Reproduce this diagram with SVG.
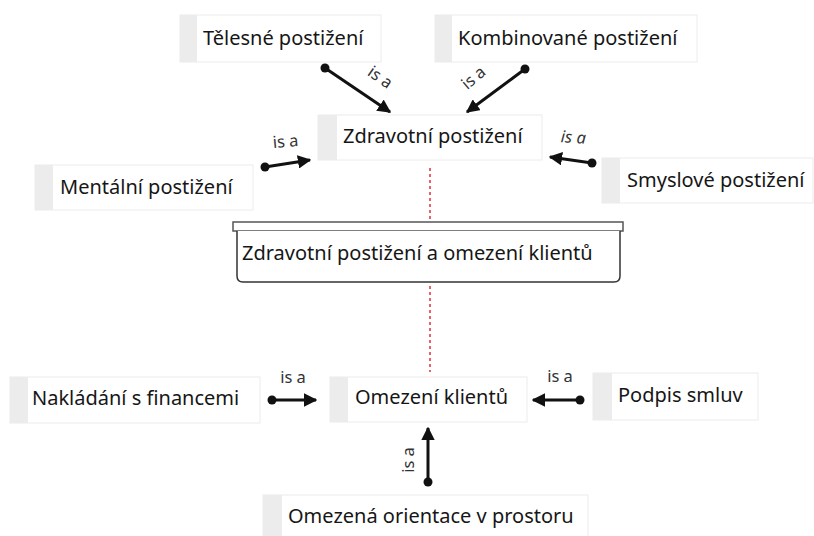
<svg xmlns="http://www.w3.org/2000/svg" width="814" height="536" viewBox="0 0 814 536">
<defs>
<style>
.box{fill:#ffffff;stroke:#ececec;stroke-width:1}
.strip{fill:#ececec}
.t{font-family:"Noto Sans","Open Sans",sans-serif;font-size:20px;fill:#161616}
.lbl{font-family:"Noto Sans","Open Sans",sans-serif;font-size:16.5px;fill:#333333;text-anchor:middle}
.c{stroke:#111111;stroke-width:3;fill:none;marker-end:url(#ah)}
.dot{fill:#111111}
.red{stroke:#e0303a;stroke-width:1.5;stroke-dasharray:3 3;fill:none}
</style>
<marker id="ah" viewBox="0 0 10 10" refX="9" refY="5" markerWidth="4.5" markerHeight="4.5" orient="auto" markerUnits="strokeWidth">
<path d="M0,0 L10,5 L0,10 z" fill="#111111"/>
</marker>
</defs>
<rect width="814" height="536" fill="#ffffff"/>
<g id="red-lines">
<line class="red" x1="430" y1="168" x2="430" y2="220"/>
<line class="red" x1="430" y1="286" x2="430" y2="372"/>
</g>
<g id="n-telesne"><rect class="box" x="180" y="15" width="201" height="47"/><rect class="strip" x="180" y="15" width="17" height="47"/><text class="t" x="203" y="45">Tělesné postižení</text></g>
<g id="n-kombinovane"><rect class="box" x="435" y="15" width="262" height="47"/><rect class="strip" x="435" y="15" width="17" height="47"/><text class="t" x="458" y="45">Kombinované postižení</text></g>
<g id="n-zdravotni"><rect class="box" x="318" y="115" width="224" height="45"/><rect class="strip" x="318" y="115" width="19" height="45"/><text class="t" x="343" y="143">Zdravotní postižení</text></g>
<g id="n-mentalni"><rect class="box" x="35" y="165" width="218" height="45"/><rect class="strip" x="35" y="165" width="18" height="45"/><text class="t" x="60" y="194">Mentální postižení</text></g>
<g id="n-smyslove"><rect class="box" x="602" y="158" width="211" height="45"/><rect class="strip" x="602" y="158" width="18" height="45"/><text class="t" x="627" y="187">Smyslové postižení</text></g>
<g id="n-group">
<rect x="233" y="222" width="390" height="9" fill="#ffffff" stroke="#555555" stroke-width="1.5"/>
<path d="M237,231 V276 Q237,282 243,282 H614 Q620,282 620,276 V231" fill="#ffffff" stroke="#333333" stroke-width="1.5"/>
<text class="t" x="242" y="260">Zdravotní postižení a omezení klientů</text>
</g>
<g id="n-omezeni"><rect class="box" x="330" y="377" width="197" height="45"/><rect class="strip" x="330" y="377" width="18" height="45"/><text class="t" x="355" y="404">Omezení klientů</text></g>
<g id="n-nakladani"><rect class="box" x="10" y="377" width="250" height="46"/><rect class="strip" x="10" y="377" width="18" height="46"/><text class="t" x="32" y="405">Nakládání s financemi</text></g>
<g id="n-podpis"><rect class="box" x="593" y="373" width="165" height="47"/><rect class="strip" x="593" y="373" width="19" height="47"/><text class="t" x="618" y="402">Podpis smluv</text></g>
<g id="n-orientace"><rect class="box" x="263" y="495" width="325" height="45"/><rect class="strip" x="263" y="495" width="19" height="45"/><text class="t" x="288" y="523">Omezená orientace v prostoru</text></g>
<g id="connectors">
<line class="c" x1="325" y1="68" x2="390" y2="112"/><circle class="dot" cx="325" cy="68" r="4.5"/>
<text class="lbl" transform="translate(377,82) rotate(35)">is a</text>
<line class="c" x1="525" y1="69" x2="467" y2="112"/><circle class="dot" cx="525" cy="69" r="4.5"/>
<text class="lbl" transform="translate(477,82) rotate(-40)">is a</text>
<line class="c" x1="265" y1="167" x2="310" y2="160"/><circle class="dot" cx="265" cy="167" r="4.5"/>
<text class="lbl" transform="translate(286,147) rotate(-5)">is a</text>
<line class="c" x1="592" y1="163" x2="550" y2="157"/><circle class="dot" cx="592" cy="163" r="4.5"/>
<text class="lbl" font-style="italic" transform="translate(573,143) rotate(3)">is a</text>
<line class="c" x1="272" y1="400" x2="316" y2="400"/><circle class="dot" cx="272" cy="400" r="4.5"/>
<text class="lbl" x="293" y="383">is a</text>
<line class="c" x1="580" y1="400" x2="533" y2="400"/><circle class="dot" cx="580" cy="400" r="4.5"/>
<text class="lbl" x="560" y="382">is a</text>
<line class="c" x1="428" y1="482" x2="428" y2="428"/><circle class="dot" cx="428" cy="482" r="4.5"/>
<text class="lbl" transform="translate(414,460) rotate(-90)">is a</text>
</g>
</svg>
